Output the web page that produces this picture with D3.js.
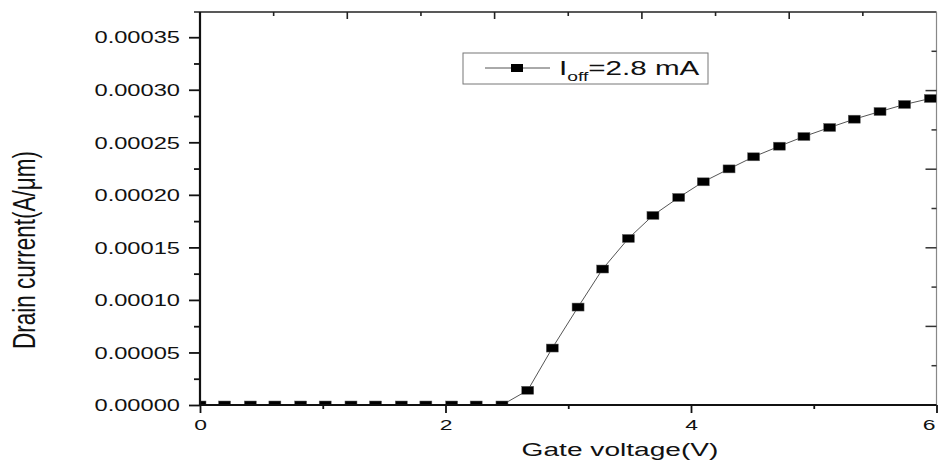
<!DOCTYPE html>
<html><head><meta charset="utf-8">
<script src="https://cdn.jsdelivr.net/npm/d3@7/dist/d3.min.js"></script>
<style>
html,body{margin:0;padding:0;background:#fff;}
svg{display:block;}
text{font-family:"Liberation Sans",Arial,Helvetica,sans-serif;fill:#111;}
</style></head>
<body><svg id="chart" width="938" height="461"></svg>
<script>
// ---- data ----
const gateVoltage = [0, 0.2, 0.41, 0.61, 0.82, 1.02, 1.23, 1.43, 1.64, 1.84, 2.05, 2.25, 2.46,
  2.67, 2.87, 3.08, 3.28, 3.49, 3.69, 3.90, 4.10, 4.31, 4.51, 4.72, 4.92, 5.13, 5.33, 5.54, 5.74, 5.95];
const drainCurrent = [0, 0, 0, 0, 0, 0, 0, 0, 0, 0, 0, 0, 0,
  14.0e-6, 54.2e-6, 93.2e-6, 129.4e-6, 158.5e-6, 180.4e-6, 197.5e-6, 212.4e-6, 224.7e-6,
  236.2e-6, 246.3e-6, 255.5e-6, 264.1e-6, 272.0e-6, 279.3e-6, 286.0e-6, 291.7e-6];
const xTicksMajor = [0, 2, 4, 6];
const xTicksMinor = [1, 3, 5];
const yTicksMajor = [0, 0.00005, 0.0001, 0.00015, 0.0002, 0.00025, 0.0003, 0.00035];
const yTicksMinor = [0.000025, 0.000075, 0.000125, 0.000175, 0.000225, 0.000275, 0.000325];
const xDomain = [0, 6];
const yDomain = [0, 0.000374];
const xLabel = "Gate voltage(V)";
const yLabel = "Drain current(A/\u03bcm)";
const legendMain = "I";
const legendSub = "off";
const legendRest = "=2.8 mA";

// ---- layout ----
const L = 200, R = 936.5, T = 12, B = 405;
const SX = 1.48; // horizontal stretch of the reference
const svg = d3.select("#chart");
const x = d3.scaleLinear().domain(xDomain).range([L, R]);
const y = d3.scaleLinear().domain(yDomain).range([B, T]);

svg.append("defs").append("clipPath").attr("id", "plotclip")
  .append("rect").attr("x", L).attr("y", T).attr("width", R - L).attr("height", B - T);

// secondary (unlabelled) top/right frame ticks
const xTop = d3.scaleLinear().domain([0, 10]).range([L, R]);
const yRight = d3.scaleLinear().domain([0, 10]).range([B, T]);

// top frame
const gTop = svg.append("g").attr("transform", `translate(0,${T})`);
gTop.append("line").attr("x1", L - 6).attr("x2", R).attr("y1", 0).attr("y2", 0)
  .attr("stroke", "#222").attr("stroke-width", 1.6);
gTop.selectAll("line.t").data(d3.range(1, 10)).enter().append("line").attr("class", "t")
  .attr("x1", d => xTop(d)).attr("x2", d => xTop(d)).attr("y1", 0)
  .attr("y2", d => d % 2 === 0 ? 7 : 4).attr("stroke", "#222").attr("stroke-width", 1.6);

// right frame
const gRight = svg.append("g");
gRight.append("line").attr("x1", R).attr("x2", R).attr("y1", T).attr("y2", B)
  .attr("stroke", "#888").attr("stroke-width", 1.2);
gRight.selectAll("line.t").data(d3.range(1, 10)).enter().append("line").attr("class", "t")
  .attr("y1", d => yRight(d)).attr("y2", d => yRight(d)).attr("x1", R)
  .attr("x2", d => d % 2 === 0 ? R - 11 : R - 5).attr("stroke", "#333").attr("stroke-width", 1.5);

// data line + markers
const plot = svg.append("g").attr("clip-path", "url(#plotclip)");
const pts = gateVoltage.map((v, i) => [v, drainCurrent[i]]);
plot.append("path").datum(pts)
  .attr("d", d3.line().x(d => x(d[0])).y(d => y(d[1])))
  .attr("fill", "none").attr("stroke", "#555").attr("stroke-width", 1);
plot.selectAll("rect.m").data(pts).enter().append("rect").attr("class", "m")
  .attr("x", d => x(d[0]) - 6).attr("y", d => y(d[1]) - 4)
  .attr("width", 12).attr("height", 8).attr("fill", "#000")
  .attr("stroke", "#666").attr("stroke-width", 0.5);

// left axis (D3)
const yAxis = d3.axisLeft(y).tickValues(yTicksMajor).tickSize(11).tickFormat(d3.format(".5f"));
const gy = svg.append("g").attr("transform", `translate(${L},0)`).call(yAxis);
gy.select(".domain").remove();
gy.selectAll(".tick line").attr("stroke", "#111").attr("stroke-width", 1.8);
gy.selectAll(".tick text").attr("x", null).attr("dy", "0.36em")
  .attr("transform", `translate(-20,0) scale(${SX},1)`)
  .attr("text-anchor", "end").style("font-size", "16px").attr("fill", "#111");
const gyMinor = svg.append("g").attr("transform", `translate(${L},0)`)
  .call(d3.axisLeft(y).tickValues(yTicksMinor).tickSize(6).tickFormat(""));
gyMinor.select(".domain").remove();
gyMinor.selectAll(".tick line").attr("stroke", "#111").attr("stroke-width", 1.8);
svg.append("line").attr("x1", L).attr("x2", L).attr("y1", T).attr("y2", B + 1)
  .attr("stroke", "#111").attr("stroke-width", 2.2);

// bottom axis (D3)
const xAxis = d3.axisBottom(x).tickValues(xTicksMajor).tickSize(8).tickFormat(d3.format("d"));
const gx = svg.append("g").attr("transform", `translate(0,${B})`).call(xAxis);
gx.select(".domain").remove();
gx.selectAll(".tick line").attr("stroke", "#111").attr("stroke-width", 1.8);
gx.selectAll(".tick text").attr("y", null).attr("dy", null)
  .attr("transform", d => `translate(${d === 6 ? -8 : 0},25) scale(${SX},1)`)
  .attr("text-anchor", "middle").style("font-size", "15.5px").attr("fill", "#111");
const gxMinor = svg.append("g").attr("transform", `translate(0,${B})`)
  .call(d3.axisBottom(x).tickValues(xTicksMinor).tickSize(4).tickFormat(""));
gxMinor.select(".domain").remove();
gxMinor.selectAll(".tick line").attr("stroke", "#111").attr("stroke-width", 1.8);
svg.append("line").attr("x1", L - 1).attr("x2", R).attr("y1", B).attr("y2", B)
  .attr("stroke", "#111").attr("stroke-width", 2.2);

// axis titles
svg.append("text").attr("transform", `translate(620,456) scale(${SX},1)`)
  .attr("text-anchor", "middle").style("font-size", "19px").text(xLabel);
svg.append("text").attr("transform", `translate(35,250) rotate(-90) scale(1,1.42)`)
  .attr("text-anchor", "middle").style("font-size", "22.5px").text(yLabel);

// legend
const lg = svg.append("g");
lg.append("rect").attr("x", 463).attr("y", 53).attr("width", 245).attr("height", 31)
  .attr("fill", "#fff").attr("stroke", "#777").attr("stroke-width", 1);
lg.append("line").attr("x1", 485).attr("x2", 550).attr("y1", 68).attr("y2", 68)
  .attr("stroke", "#555").attr("stroke-width", 1);
lg.append("rect").attr("x", 511).attr("y", 64).attr("width", 12).attr("height", 8).attr("fill", "#000");
const lt = lg.append("text").attr("transform", `translate(559,75) scale(${SX},1)`)
  .style("font-size", "20px");
lt.append("tspan").text(legendMain);
lt.append("tspan").attr("dy", 6).style("font-size", "13px").text(legendSub);
lt.append("tspan").attr("dy", -6).text(legendRest);
</script>
</body></html>
